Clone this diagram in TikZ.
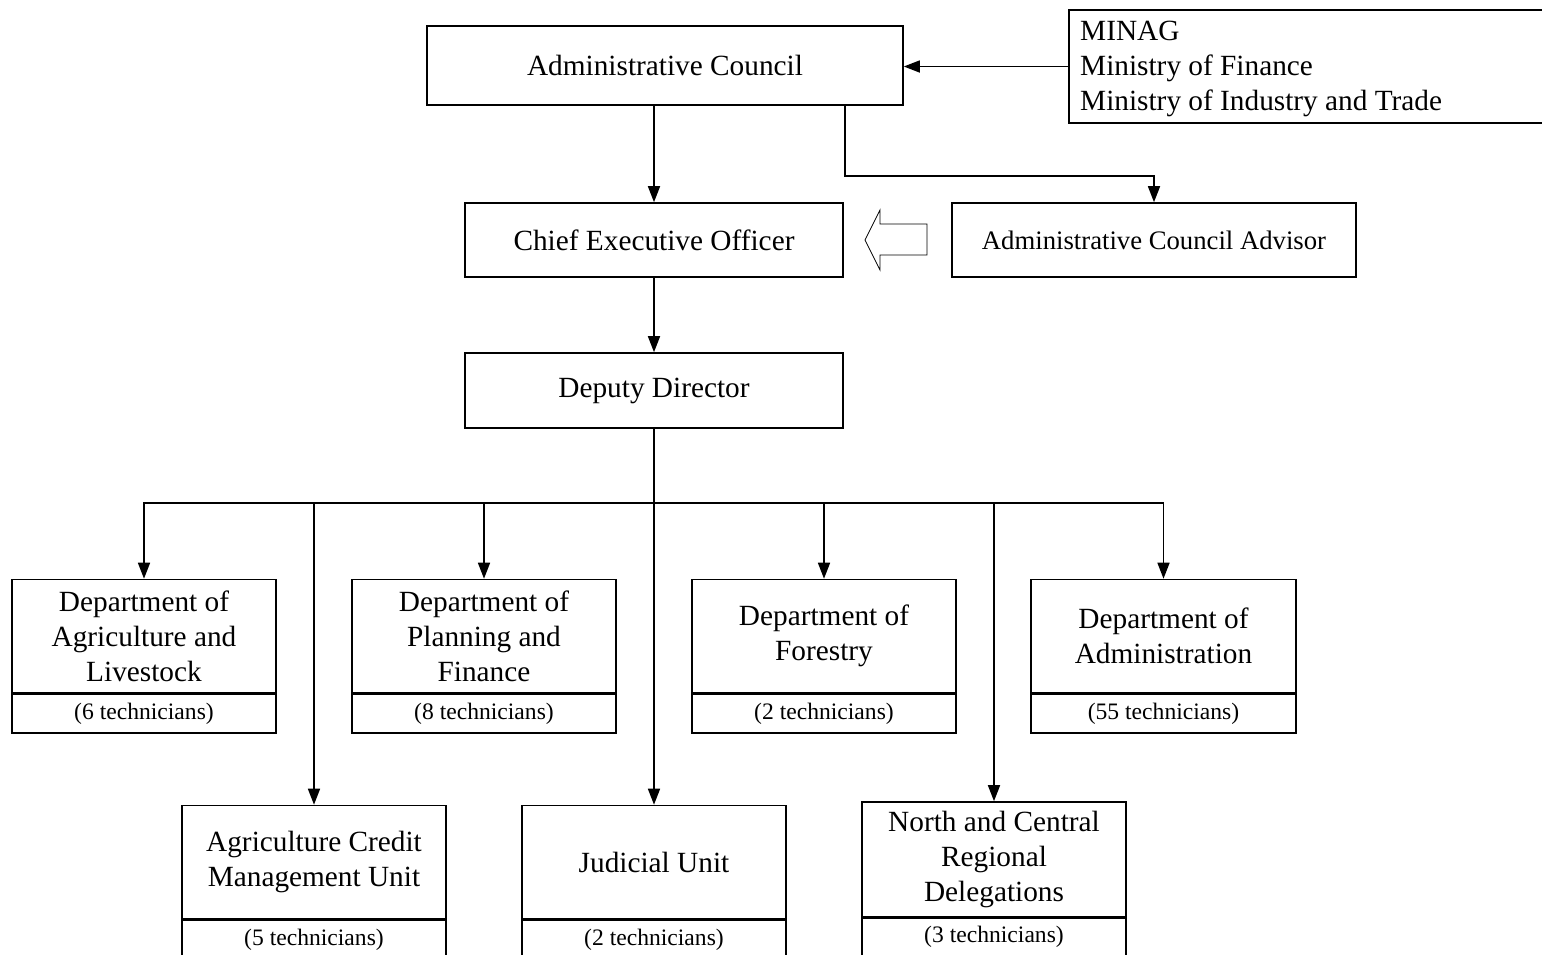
\documentclass[tikz,border=0pt]{standalone}
\usepackage{fontspec}
\setmainfont{Liberation Serif}
\usetikzlibrary{arrows.meta}
\tikzset{
  box/.style={draw, line width=1.6pt, rectangle, inner sep=0pt, align=center,
    font=\fontsize{29.3}{35}\selectfont},
  techbox/.style={draw, line width=1.6pt, rectangle, inner sep=0pt, align=center,
    font=\fontsize{23.6}{28}\selectfont, minimum width=264pt},
  plain/.style={inner sep=0pt, font=\fontsize{29.3}{35}\selectfont},
  conn/.style={line width=1.6pt},
  arr/.style={line width=1.6pt, -{Triangle[length=16pt,width=12pt]}},
  hollow/.style={draw, line width=0.8pt, fill=white},
}
\begin{document}
\begin{tikzpicture}[x=1pt,y=-1pt]
\clip (0,0) rectangle (1542,954);
\fill[white] (0,0) rectangle (1542,954);

% top level
\node[box, minimum width=476pt, minimum height=79pt] (ac) at (665,65.5) {Administrative Council};
\node[box, minimum width=492pt, minimum height=113pt] (minag) at (1315,66.5) {};
\node[plain, anchor=west, align=left] (minagtext) at (1080,69) {MINAG\\Ministry of Finance\\Ministry of Industry and Trade};
\node[box, minimum width=378pt, minimum height=74pt] (ceo) at (654,240) {Chief Executive Officer};
\node[box, minimum width=404pt, minimum height=74pt, font=\fontsize{26.7}{32}\selectfont] (adv) at (1154,240) {Administrative Council Advisor};
\node[box, minimum width=378pt, minimum height=75pt] (dd) at (654,390.5) {Deputy Director};

% departments (top row)
\node[box, minimum width=264pt, minimum height=113pt] (ag) at (144,636) {Department of\\Agriculture and\\Livestock};
\node[techbox, minimum height=39pt, anchor=north] (agt) at (ag.south) {(6 technicians)};
\node[box, minimum width=264pt, minimum height=113pt] (pf) at (484,636) {Department of\\Planning and\\Finance};
\node[techbox, minimum height=39pt, anchor=north] (pft) at (pf.south) {(8 technicians)};
\node[box, minimum width=264pt, minimum height=113pt] (fo) at (824,636) {Department of\\Forestry};
\node[techbox, minimum height=39pt, anchor=north] (fot) at (fo.south) {(2 technicians)};
\node[box, minimum width=265pt, minimum height=113pt] (ad) at (1163.5,636) {Department of\\Administration};
\node[techbox, minimum width=265pt, minimum height=39pt, anchor=north] (adt) at (ad.south) {(55 technicians)};

% units (bottom row)
\node[box, minimum width=264pt, minimum height=113pt] (cr) at (314,862) {Agriculture Credit\\Management Unit};
\node[techbox, minimum height=40pt, anchor=north] (crt) at (cr.south) {(5 technicians)};
\node[box, minimum width=264pt, minimum height=113pt] (ju) at (654,862) {Judicial Unit};
\node[techbox, minimum height=40pt, anchor=north] (jut) at (ju.south) {(2 technicians)};
\node[box, minimum width=264pt, minimum height=115pt] (nc) at (994,859.5) {North and Central\\Regional\\Delegations};
\node[techbox, minimum height=37pt, anchor=north] (nct) at (nc.south) {(3 technicians)};

% connectors
\draw[arr] (minag.west) -- (ac.east |- minag.west);
\draw[arr] (ceo.north |- ac.south) -- (ceo.north);
\draw[arr] ([xshift=180pt]ac.south) -- ++(0,70) -| (adv.north);
\draw[arr] (ceo.south) -- (dd.north);

\coordinate (j) at (dd.south |- 0,503);
\draw[conn] (dd.south) -- (j);
\draw[arr] (j) -| (ag.north);
\draw[arr] (j) -| (cr.north);
\draw[arr] (j) -| (pf.north);
\draw[arr] (j) -- (ju.north);
\draw[arr] (j) -| (fo.north);
\draw[arr] (j) -| (nc.north);
\draw[arr] (j) -| (ad.north);

% hollow arrow from advisor to CEO
\draw[hollow] (865,240) -- (880,210) -- (880,224) -- (927,224) -- (927,255) -- (880,255) -- (880,270) -- cycle;
\end{tikzpicture}
\end{document}
